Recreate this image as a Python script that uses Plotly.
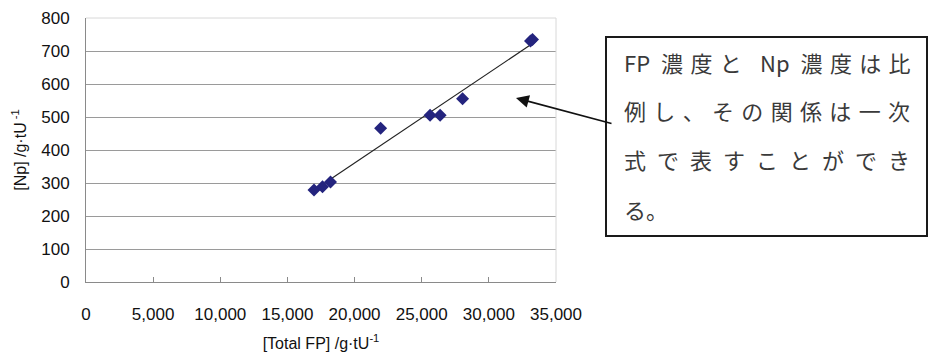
import numpy as np
import plotly.graph_objects as go

# ---- data ----
total_fp = [16980, 17610, 18210, 21940, 25620, 26370, 28040, 33100, 33250]
np_conc = [279, 289, 303, 466, 505, 505, 555, 730, 735]

x_ticks = [0, 5000, 10000, 15000, 20000, 25000, 30000, 35000]
x_tick_labels = ["0", "5,000", "10,000", "15,000", "20,000", "25,000", "30,000", "35,000"]
y_ticks = [0, 100, 200, 300, 400, 500, 600, 700, 800]
y_tick_labels = [str(v) for v in y_ticks]

x_title = "[Total FP] /g·tU<sup>-1</sup>"
y_title = "[Np] /g·tU<sup> -1</sup>"

S3 = "\u2004"  # three-per-em space
S2 = "\u2002"  # en space
note_lines = [
    "FP" + S2 + S3.join("濃度と") + S2 + S3 + "Np" + S2 + S3.join("濃度は比"),
    S3.join("例し、その関係は一次"),
    S2.join("式で表すことができ"),
    "る。",
]

# ---- geometry helpers (pixel -> paper) ----
W, H = 928, 352
L, R, T, B = 86, 556, 18, 282


def px(x):
    return (x - L) / (R - L)


def py(y):
    return (B - y) / (B - T)


# ---- trend line from data ----
coef = np.polyfit(total_fp, np_conc, 1)
fit_x = np.array([min(total_fp), max(total_fp)])
fit_y = np.polyval(coef, fit_x)

fig = go.Figure()
fig.add_trace(go.Scatter(
    x=fit_x, y=fit_y, mode="lines",
    line=dict(color="#222222", width=1.2), showlegend=False, hoverinfo="skip"))
fig.add_trace(go.Scatter(
    x=total_fp, y=np_conc, mode="markers",
    marker=dict(symbol="diamond", size=10, color="#24247e",
                line=dict(width=0)),
    showlegend=False))

tick_font = dict(family="Liberation Sans, Arial, sans-serif", size=17, color="#111111")
title_font = dict(family="Liberation Sans, Arial, sans-serif", size=16, color="#111111")

fig.update_layout(
    width=W, height=H,
    margin=dict(l=L, r=W - R, t=T, b=H - B, autoexpand=False),
    paper_bgcolor="white", plot_bgcolor="white",
    font=tick_font,
    xaxis=dict(
        range=[0, 35000], tickmode="array", tickvals=x_ticks, ticktext=x_tick_labels,
        showgrid=False, zeroline=False, showline=True, linecolor="#8a8a8a", linewidth=1,
        ticks="inside", ticklen=5, tickcolor="#8a8a8a", tickwidth=1,
        ticklabelstandoff=17, tickfont=tick_font,
        title=dict(text=x_title, font=title_font, standoff=14),
        automargin=False,
    ),
    yaxis=dict(
        range=[0, 800], tickmode="array", tickvals=y_ticks, ticktext=y_tick_labels,
        showgrid=True, gridcolor="#9a9a9a", gridwidth=1,
        zeroline=False, showline=True, linecolor="#8a8a8a", linewidth=1,
        ticks="", ticklabelstandoff=12, tickfont=tick_font,
        title=dict(text=y_title, font=title_font, standoff=10),
        automargin=False,
    ),
)

# light plot-area border (top / right)
fig.add_shape(type="line", xref="paper", yref="paper", x0=0, x1=1, y0=1, y1=1,
              line=dict(color="#d8d8d8", width=1), layer="above")
fig.add_shape(type="line", xref="paper", yref="paper", x0=1, x1=1, y0=0, y1=1,
              line=dict(color="#d8d8d8", width=1), layer="above")

# callout box
fig.add_shape(type="rect", xref="paper", yref="paper",
              x0=px(606), x1=px(927), y0=py(236), y1=py(37),
              line=dict(color="#1a1a1a", width=2), fillcolor="white", layer="above")

line_y = [62, 110, 159, 209]
for txt, yy in zip(note_lines, line_y):
    fig.add_annotation(
        x=px(622), y=py(yy), xref="paper", yref="paper",
        text=txt, showarrow=False, xanchor="left", yanchor="middle",
        font=dict(family="Noto Sans CJK JP, sans-serif", size=22, color="#3a3a3a"))

# arrow
fig.add_annotation(
    x=px(516), y=py(98), xref="paper", yref="paper",
    ax=613 - 516, ay=124 - 98, axref="pixel", ayref="pixel",
    text="", showarrow=True, arrowhead=2, arrowsize=1.6, arrowwidth=1.6,
    arrowcolor="#111111")

fig.write_html("out.html")
